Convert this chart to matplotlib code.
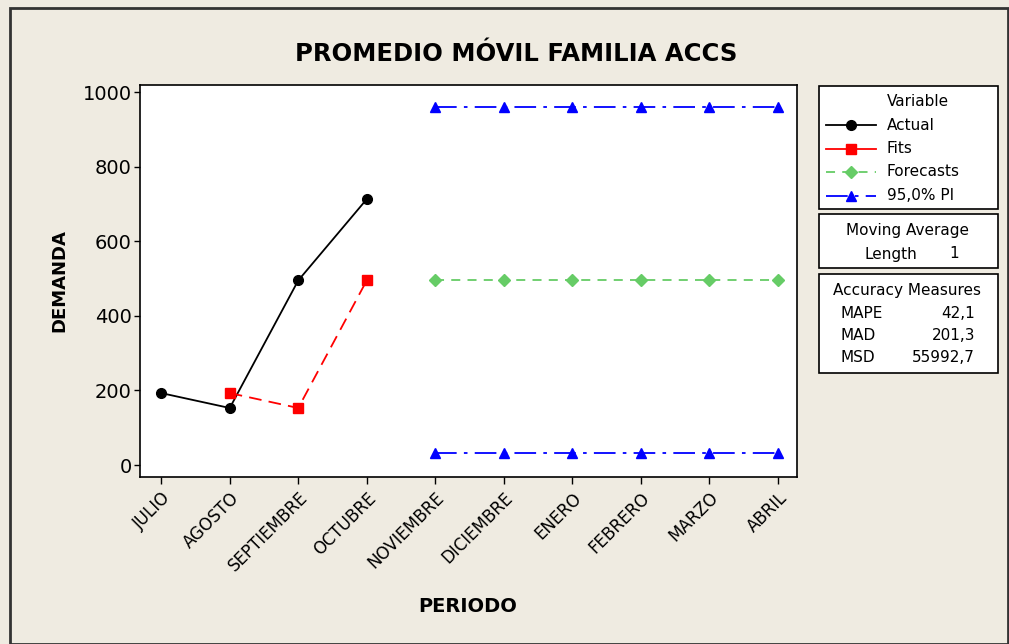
import matplotlib
matplotlib.use('Agg')
import matplotlib.pyplot as plt
from matplotlib.lines import Line2D
from matplotlib.patches import Rectangle

periodos = ['JULIO', 'AGOSTO', 'SEPTIEMBRE', 'OCTUBRE', 'NOVIEMBRE',
            'DICIEMBRE', 'ENERO', 'FEBRERO', 'MARZO', 'ABRIL']
actual = [193, 153, 495, 713]
fits = [193, 153, 495]
forecasts = [495, 495, 495, 495, 495, 495]
pi_upper = [960, 960, 960, 960, 960, 960]
pi_lower = [33, 33, 33, 33, 33, 33]
medidas = [('MAPE', '42,1'), ('MAD', '201,3'), ('MSD', '55992,7')]

bg = '#EFEBE1'
W, H = 1009, 644

fig = plt.figure(figsize=(W / 100, H / 100), dpi=100, facecolor=bg)
# marco exterior
fig.patches.append(Rectangle((10 / W, 0), (W - 11) / W, (H - 8) / H, transform=fig.transFigure,
                             fill=False, edgecolor='#333333', lw=2.0))

ax = fig.add_axes([140 / W, 1 - 477 / H, (797 - 140) / W, (477 - 85) / H])
ax.set_facecolor('white')

x_all = list(range(len(periodos)))
x_act = x_all[:len(actual)]
x_fit = x_all[1:1 + len(fits)]
x_fc = x_all[4:]

ax.plot(x_act, actual, color='black', lw=1.3, marker='o', ms=7)
ax.plot(x_fit, fits, color='red', lw=1.3, ls=(0, (7, 4)), marker='s', ms=6.5)
ax.plot(x_fc, forecasts, color='#66CC66', lw=1.3, ls=(0, (5, 4)), marker='D', ms=6.5)
ax.plot(x_fc, pi_upper, color='blue', lw=1.3, ls=(0, (12, 4, 2, 4)), marker='^', ms=7.5)
ax.plot(x_fc, pi_lower, color='blue', lw=1.3, ls=(0, (12, 4, 2, 4)), marker='^', ms=7.5)

ax.set_xlim(-0.31, 9.28)
ax.set_ylim(-32, 1019)
ax.set_yticks([0, 200, 400, 600, 800, 1000])
ax.set_xticks(x_all)
ax.set_xticklabels(periodos, rotation=45, ha='right', rotation_mode='anchor', fontsize=12)
ax.tick_params(axis='y', labelsize=14, length=4, width=1, pad=2)
ax.tick_params(axis='x', length=5, width=1)
for s in ax.spines.values():
    s.set_linewidth(1.2)

ax.set_ylabel('DEMANDA', fontsize=13, fontweight='bold', labelpad=10)
fig.text(468 / W, 1 - 606 / H, 'PERIODO', fontsize=14, fontweight='bold', ha='center', va='center')
fig.text(516 / W, 1 - 54 / H, 'PROMEDIO MÓVIL FAMILIA ACCS', fontsize=17.5, fontweight='bold',
         ha='center', va='center')


def caja(x0, y0, x1, y1):
    fig.patches.append(Rectangle((x0 / W, 1 - y1 / H), (x1 - x0) / W, (y1 - y0) / H,
                                 transform=fig.transFigure, facecolor='white',
                                 edgecolor='black', lw=1.2))


def txt(x, y, s, ha='left'):
    fig.text(x / W, 1 - y / H, s, fontsize=11, ha=ha, va='center')


# cuadro de leyenda
caja(819, 86, 998, 209)
txt(918, 101, 'Variable', ha='center')
ley = [('Actual', 'black', '-', 'o', 7),
       ('Fits', 'red', '-', 's', 6.5),
       ('Forecasts', '#66CC66', (0, (5, 4)), 'D', 6.5),
       ('95,0% PI', 'blue', (0, (12, 4, 2, 4)), '^', 7.5)]
for i, (nombre, c, ls, m, ms) in enumerate(ley):
    yy = 125 + i * 23.5
    fig.add_artist(Line2D([826 / W, 876 / W], [1 - yy / H, 1 - yy / H], color=c, ls=ls, lw=1.3,
                          transform=fig.transFigure))
    fig.add_artist(Line2D([851 / W], [1 - yy / H], color=c, marker=m, ms=ms, ls='none',
                          transform=fig.transFigure))
    txt(887, yy, nombre)

caja(819, 214, 998, 268)
txt(907, 231, 'Moving Average', ha='center')
txt(864, 254, 'Length')
txt(949, 254, '1')

caja(819, 274, 998, 373)
txt(907, 290, 'Accuracy Measures', ha='center')
for i, (k, v) in enumerate(medidas):
    yy = 313 + i * 22.5
    txt(840, yy, k)
    txt(975, yy, v, ha='right')

fig.savefig('out.png', dpi=100, facecolor=bg)
